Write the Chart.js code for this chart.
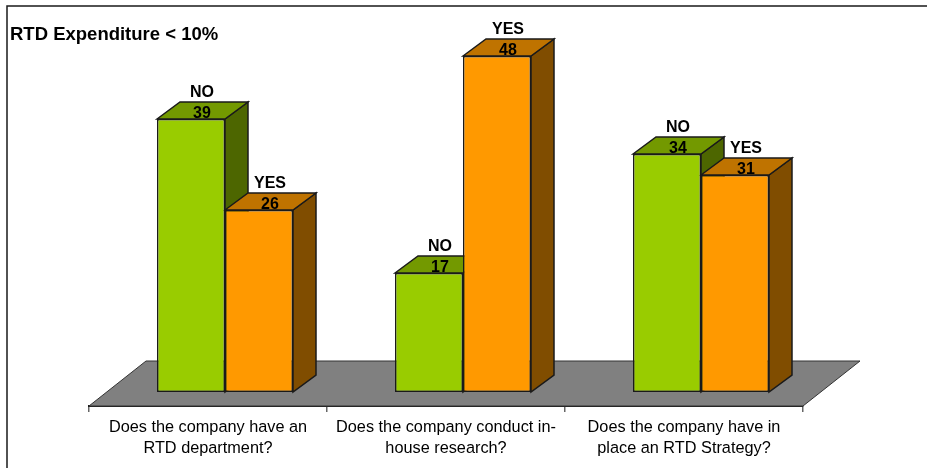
<!DOCTYPE html>
<html>
<head>
<meta charset="utf-8">
<style>
  html, body { margin: 0; padding: 0; background: #fff; }
  #wrap { position: relative; width: 927px; height: 468px; }
</style>
</head>
<body>
<div id="wrap"><canvas id="bars" width="927" height="468"></canvas></div>
<script src="https://cdn.jsdelivr.net/npm/chart.js@4"></script>
<script>
var categories = [
  ['Does the company have an', 'RTD department?'],
  ['Does the company conduct in-', 'house research?'],
  ['Does the company have in', 'place an RTD Strategy?']
];
var noValues = [39, 17, 34];
var yesValues = [26, 48, 31];

var FONT = '"Liberation Sans", Arial, sans-serif';
var DEPTH_X = 23, DEPTH_Y = 17;   // 3d offset of one bar
var FLOOR_X = 57, FLOOR_Y = 45;   // 3d offset of the floor
var BAR_SHIFT = 17;               // bars stand in the middle of the floor

var faces = [
  { top: '#739900', side: '#4d6600' },
  { top: '#bf7300', side: '#804d00' }
];

function poly(ctx, pts, fill) {
  ctx.beginPath();
  ctx.moveTo(pts[0][0], pts[0][1]);
  for (var i = 1; i < pts.length; i++) ctx.lineTo(pts[i][0], pts[i][1]);
  ctx.closePath();
  ctx.fillStyle = fill;
  ctx.fill();
  ctx.stroke();
}

var threeD = {
  id: 'threeD',
  afterDatasetsUpdate: function (chart) {
    chart.data.datasets.forEach(function (ds, d) {
      chart.getDatasetMeta(d).data.forEach(function (bar) { bar.x += BAR_SHIFT; });
    });
  },
  beforeDraw: function (chart) {
    // frame runs off the right and bottom of the picture
    var ctx = chart.ctx;
    ctx.save();
    ctx.strokeStyle = '#1a1a1a';
    ctx.lineWidth = 1.5;
    ctx.strokeRect(7, 6, 960, 500);
    ctx.restore();
  },
  beforeDatasetsDraw: function (chart) {
    var ctx = chart.ctx, a = chart.chartArea;
    ctx.save();
    ctx.strokeStyle = '#333';
    ctx.lineWidth = 1;
    poly(ctx, [[a.left, a.bottom], [a.left + FLOOR_X, a.bottom - FLOOR_Y],
      [a.right + FLOOR_X, a.bottom - FLOOR_Y], [a.right, a.bottom]], '#808080');
    ctx.strokeStyle = '#1a1a1a';
    ctx.lineWidth = 1.5;
    chart.data.datasets.forEach(function (ds, d) {
      chart.getDatasetMeta(d).data.forEach(function (bar) {
        var l = bar.x - bar.width / 2, r = bar.x + bar.width / 2, t = bar.y, b = bar.base;
        poly(ctx, [[r, t], [r + DEPTH_X, t - DEPTH_Y], [r + DEPTH_X, b - DEPTH_Y], [r, b]], faces[d].side);
        poly(ctx, [[l, t], [l + DEPTH_X, t - DEPTH_Y], [r + DEPTH_X, t - DEPTH_Y], [r, t]], faces[d].top);
      });
    });
    ctx.restore();
  },
  afterDatasetsDraw: function (chart) {
    var ctx = chart.ctx;
    ctx.save();
    ctx.fillStyle = '#000';
    ctx.textAlign = 'center';
    ctx.textBaseline = 'middle';
    ctx.font = 'bold 16px ' + FONT;
    chart.data.datasets.forEach(function (ds, d) {
      chart.getDatasetMeta(d).data.forEach(function (bar, i) {
        ctx.fillText(ds.data[i], bar.x + 11, bar.y - 5);
        ctx.fillText(ds.label, bar.x + 11, bar.y - 26);
      });
    });
    ctx.restore();
  }
};

new Chart(document.getElementById('bars').getContext('2d'), {
  type: 'bar',
  data: {
    labels: categories,
    datasets: [
      { label: 'NO', data: noValues, backgroundColor: '#99cc00', borderColor: '#1a1a1a', borderWidth: 1.5, borderSkipped: false },
      { label: 'YES', data: yesValues, backgroundColor: '#ff9900', borderColor: '#1a1a1a', borderWidth: 1.5, borderSkipped: false }
    ]
  },
  options: {
    responsive: false,
    animation: false,
    events: [],
    barPercentage: 1,
    categoryPercentage: 136 / 238,
    layout: { padding: { left: 10, right: 124, top: 0, bottom: 0 } },
    plugins: {
      legend: { display: false },
      tooltip: { enabled: false },
      title: {
        display: true,
        text: 'RTD Expenditure < 10%',
        align: 'start',
        color: '#000',
        font: { family: FONT, size: 18.5, weight: 'bold', lineHeight: 0.6 },
        padding: { top: 29.45, bottom: 1.45 }
      }
    },
    scales: {
      x: {
        grid: { offset: true, drawOnChartArea: false, color: '#666', lineWidth: 1.5, tickLength: 6 },
        border: { color: '#1a1a1a', width: 2 },
        ticks: { color: '#000', maxRotation: 0, autoSkip: false, font: { family: FONT, size: 16.3, lineHeight: 1.29 }, padding: 5 },
        afterFit: function (s) { s.height = 62; }
      },
      y: {
        min: -2,
        max: 50,
        grid: { display: false },
        border: { display: false },
        ticks: { display: false },
        afterFit: function (s) { s.width = 79; }
      }
    }
  },
  plugins: [threeD]
});
</script>
</body>
</html>
